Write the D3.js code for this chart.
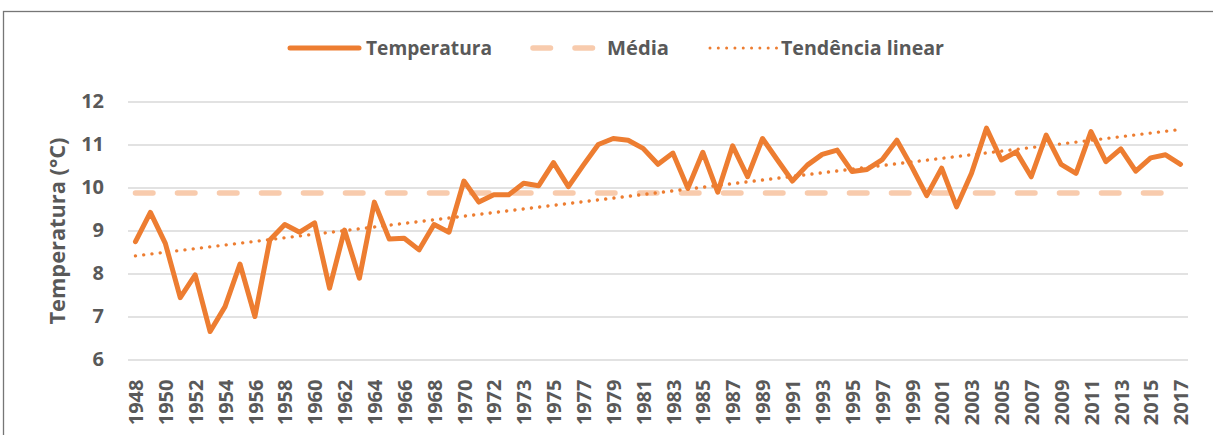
<!DOCTYPE html>
<html>
<head>
<meta charset="utf-8">
<script src="https://cdn.jsdelivr.net/npm/d3@7/dist/d3.min.js"></script>
<style>
  html, body { margin: 0; padding: 0; background: #fff; }
  svg { display: block; }
  text { font-family: "Open Sans", "DejaVu Sans", sans-serif; font-weight: 700; fill: #595959; }
</style>
</head>
<body>
<svg id="chart" width="1213" height="435"></svg>
<script>
// ---- data ----
const years = [
  "1948","1949","1950","1951","1952","1953","1954","1955","1956","1957",
  "1958","1959","1960","1961","1962","1963","1964","1965","1966","1967",
  "1968","1969","1970","1971","1972","1972","1973","1974","1975","1976",
  "1977","1978","1979","1980","1981","1982","1983","1984","1985","1986",
  "1987","1988","1989","1990","1991","1992","1993","1994","1995","1996",
  "1997","1998","1999","2000","2001","2002","2003","2004","2005","2006",
  "2007","2008","2009","2010","2011","2012","2013","2014","2015","2016","2017"
];
const temperatura = [
  8.74, 9.42, 8.70, 7.44, 7.97, 6.65, 7.23, 8.22, 7.00, 8.78,
  9.14, 8.96, 9.18, 7.66, 9.01, 7.89, 9.66, 8.80, 8.82, 8.55,
  9.14, 8.96, 10.15, 9.66, 9.83, 9.83, 10.10, 10.04, 10.58, 10.02,
  10.52, 11.00, 11.14, 11.10, 10.91, 10.54, 10.80, 9.98, 10.82, 9.89,
  10.97, 10.25, 11.14, 10.64, 10.15, 10.52, 10.77, 10.87, 10.37, 10.42,
  10.64, 11.10, 10.48, 9.81, 10.45, 9.55, 10.33, 11.38, 10.64, 10.83,
  10.25, 11.22, 10.54, 10.33, 11.30, 10.60, 10.90, 10.38, 10.69, 10.76, 10.54
];
const media = [9.87];
const tendencia = [8.41, 11.35]; // trend line at first and last category
const yTicks = [6, 7, 8, 9, 10, 11, 12];
const legendLabels = ["Temperatura", "Média", "Tendência linear"];
const yTitle = "Temperatura (°C)";

// ---- setup ----
const svg = d3.select("#chart");
const orange = "#ED7D31";
const peach = "#F8CBAD";
const grid = "#D9D9D9";

const plot = { left: 128, right: 1188, top: 101.5, bottom: 359.5 };
const idx = d3.range(temperatura.length);

const x = d3.scalePoint().domain(idx).range([plot.left, plot.right]).padding(0.5);
const y = d3.scaleLinear().domain([6, 12]).range([plot.bottom, plot.top]);

// outer frame
svg.append("rect")
  .attr("x", 3.5).attr("y", 11.5).attr("width", 1300).attr("height", 600)
  .attr("fill", "none").attr("stroke", "#767676").attr("stroke-width", 1.3);

// gridlines + y tick labels
const yAxis = d3.axisLeft(y).tickValues(yTicks).tickFormat(d3.format("d"))
  .tickSize(-(plot.right - plot.left));
const gy = svg.append("g").attr("transform", `translate(${plot.left},0)`).call(yAxis);
gy.select(".domain").remove();
gy.selectAll(".tick line").attr("stroke", grid).attr("stroke-width", 1.4);
gy.selectAll(".tick text")
  .attr("x", 104 - plot.left)
  .attr("text-anchor", "end")
  .style("font-size", "20px")
  .style("font-family", "'Open Sans', sans-serif")
  .style("font-weight", 700)
  .attr("fill", "#595959");

// x axis labels (every other category)
const xAxis = d3.axisBottom(x)
  .tickValues(idx.filter(i => i % 2 === 0))
  .tickFormat(i => years[i])
  .tickSize(0);
const gx = svg.append("g").attr("transform", `translate(0,${plot.bottom})`).call(xAxis);
gx.select(".domain").remove();
gx.selectAll(".tick text")
  .attr("transform", "rotate(-90)")
  .attr("x", -20).attr("y", 0).attr("dy", "0.36em")
  .attr("text-anchor", "end")
  .style("font-size", "20px")
  .style("font-family", "'Open Sans', sans-serif")
  .style("font-weight", 700)
  .attr("fill", "#595959");

// mean line
svg.append("line")
  .attr("x1", x(0)).attr("x2", x(idx.length - 1))
  .attr("y1", y(media[0])).attr("y2", y(media[0]))
  .attr("stroke", peach).attr("stroke-width", 5.5)
  .attr("stroke-linecap", "round")
  .attr("stroke-dasharray", "17.5 24.5");

// trend line
svg.append("line")
  .attr("x1", x(0)).attr("x2", x(idx.length - 1))
  .attr("y1", y(tendencia[0])).attr("y2", y(tendencia[1]))
  .attr("stroke", orange).attr("stroke-width", 3.4)
  .attr("stroke-linecap", "round")
  .attr("stroke-dasharray", "0.01 8.3");

// temperature line
const line = d3.line().x((d, i) => x(i)).y(d => y(d));
svg.append("path")
  .datum(temperatura)
  .attr("d", line)
  .attr("fill", "none")
  .attr("stroke", orange).attr("stroke-width", 5)
  .attr("stroke-linejoin", "round")
  .attr("stroke-linecap", "round");

// y title
svg.append("text")
  .attr("transform", "translate(65,231) rotate(-90)")
  .attr("text-anchor", "middle")
  .style("font-size", "22px")
  .attr("textLength", 187).attr("lengthAdjust", "spacingAndGlyphs")
  .text(yTitle);

// legend
const lg = svg.append("g");
const ly = 48;
lg.append("line").attr("x1", 290).attr("x2", 359).attr("y1", ly).attr("y2", ly)
  .attr("stroke", orange).attr("stroke-width", 5).attr("stroke-linecap", "round");
lg.append("text").attr("x", 366).attr("y", ly + 7).style("font-size", "20px")
  .attr("textLength", 126).attr("lengthAdjust", "spacingAndGlyphs").text(legendLabels[0]);

lg.append("line").attr("x1", 533).attr("x2", 594).attr("y1", ly).attr("y2", ly)
  .attr("stroke", peach).attr("stroke-width", 5.5).attr("stroke-linecap", "round")
  .attr("stroke-dasharray", "17.5 24.5");
lg.append("text").attr("x", 607).attr("y", ly + 7).style("font-size", "20px")
  .attr("textLength", 62).attr("lengthAdjust", "spacingAndGlyphs").text(legendLabels[1]);

lg.append("line").attr("x1", 710).attr("x2", 777).attr("y1", ly).attr("y2", ly)
  .attr("stroke", orange).attr("stroke-width", 3).attr("stroke-linecap", "round")
  .attr("stroke-dasharray", "0.01 8.3");
lg.append("text").attr("x", 781).attr("y", ly + 7).style("font-size", "20px")
  .attr("textLength", 163).attr("lengthAdjust", "spacingAndGlyphs").text(legendLabels[2]);
</script>
</body>
</html>
